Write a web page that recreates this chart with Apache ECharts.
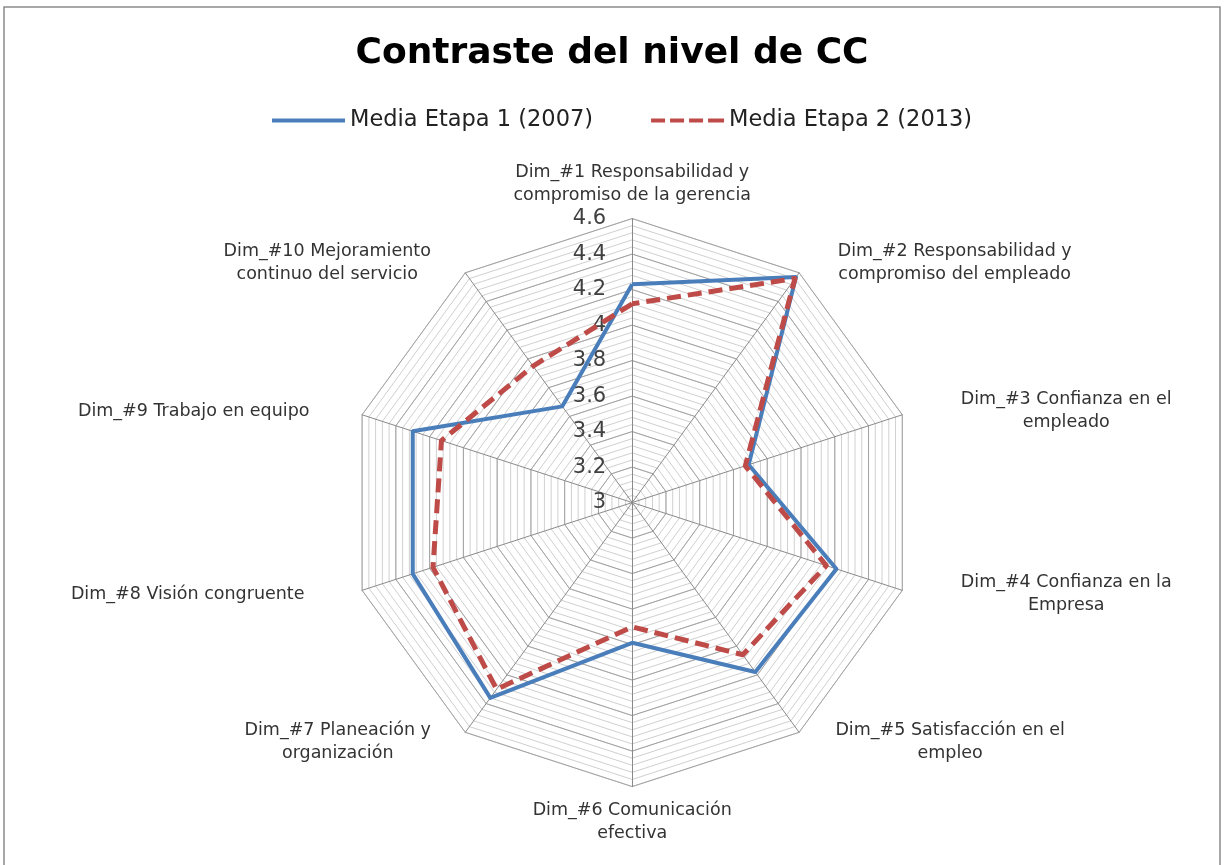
<!DOCTYPE html>
<html>
<head>
<meta charset="utf-8">
<script src="https://cdn.jsdelivr.net/npm/echarts@6/dist/echarts.min.js"></script>
<style>
html,body{margin:0;padding:0;background:#fff;}
#chart{width:1224px;height:865px;}
</style>
</head>
<body>
<div id="chart"></div>
<script>
// ---- data ----
var dimensions = [
  'Dim_#1 Responsabilidad y\ncompromiso de la gerencia',
  'Dim_#2 Responsabilidad y\ncompromiso del empleado',
  'Dim_#3 Confianza en el\nempleado',
  'Dim_#4 Confianza en la\nEmpresa',
  'Dim_#5 Satisfacción en el\nempleo',
  'Dim_#6 Comunicación\nefectiva',
  'Dim_#7 Planeación y\norganización',
  'Dim_#8 Visión congruente',
  'Dim_#9 Trabajo en equipo',
  'Dim_#10 Mejoramiento\ncontinuo del servicio'
];
var etapa1 = [4.23, 4.57, 3.69, 4.21, 4.18, 3.79, 4.36, 4.30, 4.30, 3.67];
var etapa2 = [4.12, 4.56, 3.67, 4.15, 4.06, 3.70, 4.30, 4.18, 4.13, 3.95];
var seriesNames = ['Media Etapa 1 (2007)', 'Media Etapa 2 (2013)'];
var axisMin = 3, axisMax = 4.6;
var tickLabels = ['3', '3.2', '3.4', '3.6', '3.8', '4', '4.2', '4.4', '4.6'];

// ---- styling (not data) ----
// extra horizontal offset of each dimension label (px, + = right, - = left)
var labelShift = [0, 30, 46, 46, 28, 0, -26, -45, -40, -26];
var font = "'DejaVu Sans', 'Open Sans', sans-serif";
var nameFontSize = 17.5;

// ECharts lays radar indicators counter-clockwise; reorder so they run clockwise.
var order = [0];
for (var i = dimensions.length - 1; i >= 1; i--) order.push(i);
function reorder(arr) { return order.map(function (k) { return arr[k]; }); }

// measure label widths so multi-line labels can be centred like the original
var ctx = document.createElement('canvas').getContext('2d');
ctx.font = nameFontSize + "px " + font;
var rich = {};
dimensions.forEach(function (d, idx) {
  var w = 0;
  d.split('\n').forEach(function (ln) { w = Math.max(w, Math.ceil(ctx.measureText(ln).width) + 2); });
  var s = labelShift[idx];
  rich['n' + idx] = {
    width: w, align: 'center', color: '#333',
    fontFamily: font, fontSize: nameFontSize, lineHeight: 23,
    padding: [0, s < 0 ? -s : 0, 0, s > 0 ? s : 0]
  };
});

var center = ['51.65%', '58.1%'];
var radius = 284;

var majorIndicators = reorder(dimensions).map(function (d, idx) {
  var o = { name: d, min: axisMin, max: axisMax };
  if (idx !== 0) o.axisLabel = { show: false };
  return o;
});
var minorIndicators = dimensions.map(function () { return { name: '', min: axisMin, max: axisMax }; });

var chart = echarts.init(document.getElementById('chart'));
chart.setOption({
  backgroundColor: '#fff',
  animation: false,
  title: {
    text: 'Contraste del nivel de CC',
    left: 'center', top: 31,
    textStyle: { fontFamily: font, fontSize: 36, fontWeight: 'bold', color: '#000' }
  },
  legend: {
    top: 104, left: 267,
    itemWidth: 73, itemHeight: 4, itemGap: 58,
    textStyle: { fontFamily: font, fontSize: 22.5, color: '#222' },
    data: [
      { name: seriesNames[0], icon: 'rect' },
      { name: seriesNames[1], icon: 'path://M0,0h14v4h-14z M19,0h14v4h-14z M38,0h14v4h-14z M57,0h16v4h-16z' }
    ]
  },
  graphic: [{
    type: 'rect', shape: { x: 4, y: 7, width: 1216, height: 900 },
    style: { fill: 'none', stroke: '#8c8c8c', lineWidth: 1.5 }, silent: true
  }],
  radar: [
    {
      center: center, radius: radius, startAngle: 90, shape: 'polygon',
      splitNumber: 40,
      indicator: minorIndicators,
      axisName: { show: false },
      axisLine: { show: false },
      axisTick: { show: false },
      axisLabel: { show: false },
      splitArea: { show: false },
      splitLine: { lineStyle: { color: '#d0d0d0', width: 1 } },
      z: 1
    },
    {
      center: center, radius: radius, startAngle: 90, shape: 'polygon',
      splitNumber: tickLabels.length - 1,
      indicator: majorIndicators,
      nameGap: 12,
      axisName: {
        color: '#333', fontFamily: font, fontSize: nameFontSize, lineHeight: 23,
        formatter: function (name) {
          var idx = dimensions.indexOf(name);
          return name.split('\n').map(function (ln) { return '{n' + idx + '|' + ln + '}'; }).join('\n');
        },
        rich: rich
      },
      axisLine: { show: true, lineStyle: { color: '#8a8a8a', width: 1 } },
      axisTick: { show: false },
      axisLabel: {
        show: true, color: '#404040', fontFamily: font, fontSize: 21, margin: 26,
        padding: [5, 0, 0, 0],
        formatter: function (v) { return tickLabels[Math.round((v - axisMin) / 0.2)] || ''; }
      },
      splitArea: { show: false },
      splitLine: { lineStyle: { color: '#a3a3a3', width: 1 } },
      z: 2
    }
  ],
  series: [{
    type: 'radar',
    radarIndex: 1,
    symbol: 'none',
    z: 5,
    data: [
      {
        name: seriesNames[0], value: reorder(etapa1),
        lineStyle: { color: '#4a7ebb', width: 4, type: 'solid' },
        itemStyle: { color: '#4a7ebb' }
      },
      {
        name: seriesNames[1], value: reorder(etapa2),
        lineStyle: { color: '#be4b48', width: 5, type: [14, 7] },
        itemStyle: { color: '#be4b48' }
      }
    ]
  }]
});
</script>
</body>
</html>
